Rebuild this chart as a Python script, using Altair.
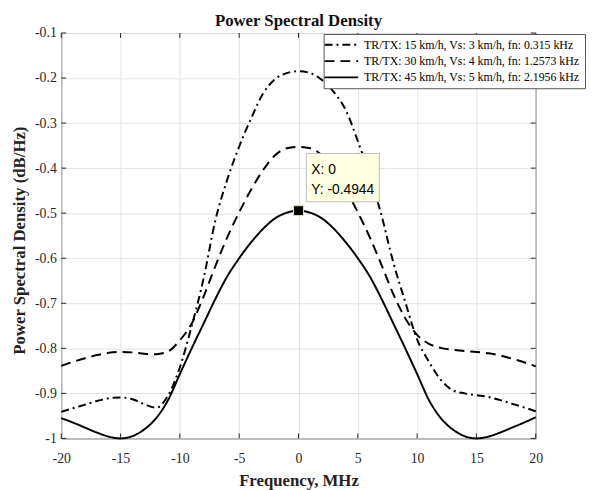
import altair as alt
import pandas as pd

# ---------------- data ----------------
freq = [-20, -19, -18, -17, -16, -15, -14, -13, -12, -11, -10, -9, -8, -7, -6, -5, -4, -3, -2, -1,
        0, 1, 2, 3, 4, 5, 6, 7, 8, 9, 10, 11, 12, 13, 14, 15, 16, 17, 18, 19, 20]

series_labels = [
    "TR/TX: 15 km/h, Vs: 3 km/h, fn: 0.315 kHz",
    "TR/TX: 30 km/h, Vs: 4 km/h, fn: 1.2573 kHz",
    "TR/TX: 45 km/h, Vs: 5 km/h, fn: 2.1956 kHz",
]

psd_15 = [-0.941, -0.933, -0.925, -0.917, -0.911, -0.909, -0.913, -0.924, -0.932, -0.905,
          -0.842, -0.750, -0.645, -0.515, -0.425, -0.352, -0.290, -0.235, -0.203, -0.189,
          -0.185,
          -0.189, -0.205, -0.232, -0.272, -0.340, -0.415, -0.505, -0.610, -0.697, -0.780,
          -0.830, -0.870, -0.893, -0.900, -0.904, -0.908, -0.915, -0.923, -0.931, -0.940]

psd_30 = [-0.839, -0.830, -0.822, -0.815, -0.810, -0.808, -0.809, -0.812, -0.813, -0.807,
          -0.782, -0.745, -0.685, -0.617, -0.553, -0.498, -0.448, -0.405, -0.372, -0.356,
          -0.353,
          -0.356, -0.372, -0.405, -0.448, -0.498, -0.553, -0.615, -0.680, -0.733, -0.770,
          -0.790, -0.799, -0.803, -0.806, -0.808, -0.811, -0.816, -0.823, -0.831, -0.840]

psd_45 = [-0.955, -0.965, -0.976, -0.987, -0.996, -1.000, -0.995, -0.980, -0.955, -0.915,
          -0.857, -0.800, -0.745, -0.690, -0.640, -0.600, -0.565, -0.535, -0.512, -0.499,
          -0.4944,
          -0.499, -0.512, -0.535, -0.565, -0.600, -0.640, -0.690, -0.745, -0.800, -0.857,
          -0.915, -0.955, -0.980, -0.995, -1.000, -0.996, -0.987, -0.976, -0.965, -0.953]

x_ticks = [-20, -15, -10, -5, 0, 5, 10, 15, 20]
y_ticks = [-1, -0.9, -0.8, -0.7, -0.6, -0.5, -0.4, -0.3, -0.2, -0.1]

tip_x = [0]
tip_y = [-0.4944]

# ---------------- tables ----------------
rows = []
for lab, vals in zip(series_labels, [psd_15, psd_30, psd_45]):
    for f, v in zip(freq, vals):
        rows.append({"freq": f, "psd": v, "series": lab})
df = pd.DataFrame(rows)

xt_df = pd.DataFrame({"freq": x_ticks})
yt_df = pd.DataFrame({"psd": y_ticks})
tip_df = pd.DataFrame({"freq": tip_x, "psd": tip_y})
tip_df["lx"] = ["X: " + str(v) for v in tip_x]
tip_df["ly"] = ["Y: " + str(v) for v in tip_y]

W, H = 481, 411
AX = "#262626"
x_scale = alt.Scale(domain=[-20, 20], nice=False, zero=False)
y_scale = alt.Scale(domain=[-1, -0.1], nice=False, zero=False)

x_axis = alt.Axis(values=x_ticks, title="Frequency, MHz", labelExpr="'' + datum.value",
                  labelFlush=False, labelPadding=13, titleY=48, titleBaseline="alphabetic")
y_axis = alt.Axis(values=y_ticks, title="Power Spectral Density (dB/Hz)",
                  labelExpr="'' + datum.value", labelPadding=5,
                  titleX=-42, titleY=210, titleAngle=270, titleAlign="center",
                  titleBaseline="middle")

X = alt.X("freq:Q", scale=x_scale, axis=x_axis)
Y = alt.Y("psd:Q", scale=y_scale, axis=y_axis)

lines = alt.Chart(df).mark_line(color="black", strokeWidth=2, interpolate="monotone").encode(
    x=X, y=Y,
    strokeDash=alt.StrokeDash(
        "series:N",
        scale=alt.Scale(domain=series_labels, range=[[8, 4, 2, 4], [10, 6], [1, 0]]),
        legend=alt.Legend(title=None, orient="none", legendX=266, legendY=1,
                          symbolType="M-3.4,0H3.4", symbolSize=100, symbolStrokeWidth=2,
                          symbolStrokeColor="black", symbolFillColor="transparent",
                          symbolOffset=7, labelOffset=17,
                          labelFont="Liberation Serif", labelFontSize=12, labelColor="black",
                          labelLimit=400, padding=5, rowPadding=4.5,
                          fillColor="white", strokeColor="#555555"),
    ),
)

tick_bottom = alt.Chart(xt_df).mark_rule(color=AX, strokeWidth=1).encode(
    x=X, y=alt.value(H), y2=alt.value(H - 5))
tick_top = alt.Chart(xt_df).mark_rule(color=AX, strokeWidth=1).encode(
    x=X, y=alt.value(0), y2=alt.value(5))
tick_left = alt.Chart(yt_df).mark_rule(color=AX, strokeWidth=1).encode(
    y=Y, x=alt.value(0), x2=alt.value(5))
tick_right = alt.Chart(yt_df).mark_rule(color=AX, strokeWidth=1).encode(
    y=Y, x=alt.value(W), x2=alt.value(W - 5))

tip_box = alt.Chart(tip_df).mark_rect(
    fill="#ffffe1", stroke="#bdbdbd", strokeWidth=1,
    xOffset=8, x2Offset=82, yOffset=-58, y2Offset=-9,
).encode(x=X, x2="freq:Q", y=Y, y2="psd:Q")
tip_t1 = alt.Chart(tip_df).mark_text(
    align="left", baseline="alphabetic", dx=13, dy=-37.5,
    font="Liberation Sans", fontSize=14, color="black",
).encode(x=X, y=Y, text="lx:N")
tip_t2 = alt.Chart(tip_df).mark_text(
    align="left", baseline="alphabetic", dx=13, dy=-17,
    font="Liberation Sans", fontSize=14, color="black",
).encode(x=X, y=Y, text="ly:N")
tip_marker = alt.Chart(tip_df).mark_square(
    size=100, filled=True, color="black", stroke="#e6e6c0", strokeWidth=1, opacity=1,
).encode(x=X, y=Y)

chart = alt.layer(
    lines, tick_bottom, tick_top, tick_left, tick_right,
    tip_box, tip_t1, tip_t2, tip_marker,
).properties(
    width=W, height=H,
    autosize=alt.AutoSizeParams(type="none"),
    padding={"left": 54, "top": 22, "right": 53, "bottom": 52},
    title=alt.TitleParams("Power Spectral Density", font="Liberation Serif", fontSize=17,
                          fontWeight="bold", color="#111111", anchor="middle", frame="group",
                          offset=4, dy=8),
).configure_view(
    stroke=AX, strokeWidth=1,
).configure_axis(
    grid=True, gridColor="#e1e1e1", gridWidth=1, domain=False, ticks=False, tickSize=0,
    labelFont="Liberation Serif", labelFontSize=14, labelColor=AX,
    titleFont="Liberation Serif", titleFontSize=17, titleFontWeight="bold", titleColor="#222222",
)

chart.save("out.html", embed_options={"renderer": "svg", "actions": False})
